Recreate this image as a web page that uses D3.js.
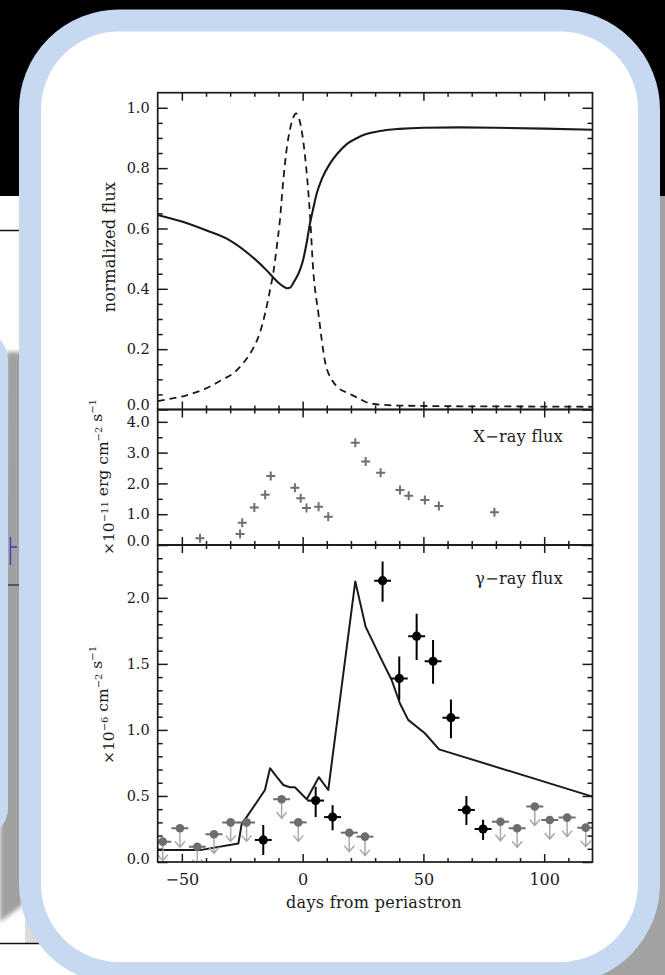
<!DOCTYPE html>
<html>
<head>
<meta charset="utf-8">
<script src="https://cdn.jsdelivr.net/npm/d3@7/dist/d3.min.js"></script>
<style>
  html, body { margin: 0; padding: 0; background: #ffffff; }
  svg { display: block; }
</style>
</head>
<body>
<svg id="slide" width="665" height="975"></svg>
<script>
// ---------- data ----------
// days from periastron, shared by all three panels
const dayDomain = [-60, 120];
const dayMajorTicks = [-50, 0, 50, 100];
const dayMinorStep = 10;

// upper panel: normalized model curves
const solidDays = [-60,-50,-40,-30,-20,-15,-12,-10,-8,-6.3,-5,-3.9,-2.5,-1.1,0,1.5,3,4.5,5.8,8,11.3,14.6,18,22.6,26,31.4,40,50,65,80,100,120];
const solidFlux = [0.645,0.623,0.594,0.560,0.500,0.462,0.436,0.420,0.408,0.402,0.405,0.419,0.438,0.463,0.490,0.545,0.615,0.670,0.715,0.765,0.815,0.850,0.878,0.900,0.912,0.922,0.930,0.934,0.935,0.934,0.931,0.927];
const dashedDays = [-60,-55,-50,-45,-40,-37,-33,-28.7,-25,-22.6,-20,-17.7,-15.5,-13.5,-12,-10.7,-9.5,-8,-6.5,-5.3,-4,-2.7,-1.5,0,1.5,3,4.4,6.5,9.5,12,15,19,23,28,40,60,90,120];
const dashedFlux = [0.028,0.035,0.043,0.055,0.070,0.082,0.100,0.120,0.150,0.175,0.210,0.254,0.320,0.396,0.460,0.540,0.620,0.760,0.870,0.926,0.965,0.981,0.965,0.904,0.800,0.650,0.460,0.320,0.150,0.100,0.070,0.054,0.038,0.020,0.013,0.011,0.010,0.009];
const normTicks = [0, 0.2, 0.4, 0.6, 0.8, 1.0];

// middle panel: X-ray flux (1e-11 erg cm^-2 s^-1)
const xrayDays = [-42.5,-25.9,-25.0,-20.0,-15.5,-13.2,-3.2,-0.8,1.6,6.6,10.6,21.8,26.1,32.3,40.3,43.9,50.6,56.4,79.4];
const xrayFlux = [0.22,0.36,0.72,1.22,1.63,2.24,1.86,1.52,1.20,1.24,0.92,3.32,2.71,2.35,1.79,1.60,1.46,1.27,1.06];
const xrayTicks = [0, 1, 2, 3, 4];

// lower panel: gamma-ray flux (1e-6 cm^-2 s^-1)
const modelDays = [-60,-42.5,-26.6,-25.2,-23.2,-15.6,-13.5,-10.8,-8,-5.3,-3.2,1.7,6.7,10.6,21.8,26.1,32.7,36.8,40.3,43.7,50.6,56.5,120];
const modelFlux = [0.09,0.09,0.14,0.29,0.34,0.545,0.71,0.646,0.583,0.566,0.566,0.475,0.642,0.545,2.124,1.78,1.53,1.38,1.20,1.076,0.975,0.853,0.495];
const detDays = [-16.3,5.4,12.4,33.1,40.0,47.2,54.0,61.4,67.8,74.7];
const detFlux = [0.167,0.465,0.34,2.13,1.39,1.71,1.52,1.093,0.394,0.25];
const detLow  = [0.053,0.34,0.24,1.97,1.227,1.53,1.35,0.937,0.28,0.167];
const detHigh = [0.28,0.57,0.43,2.275,1.555,1.88,1.68,1.23,0.50,0.32];
const limDays = [-57.9,-50.8,-43.6,-36.7,-29.8,-23.2,-8.7,-1.8,19.3,25.8,81.9,88.8,96.1,102.3,109.5,117.2];
const limFlux = [0.154,0.255,0.116,0.21,0.30,0.30,0.475,0.30,0.222,0.192,0.305,0.255,0.42,0.318,0.336,0.26];
const binHalfWidth = 3.5;
const gammaTicks = [0, 0.5, 1.0, 1.5, 2.0];

// ---------- page ----------
const svg = d3.select("#slide");
const defs = svg.append("defs");
defs.append("filter").attr("id", "soft")
  .append("feGaussianBlur").attr("stdDeviation", 2);

// slide background pieces around the frame
svg.append("rect").attr("x", 0).attr("y", 0).attr("width", 665).attr("height", 975).attr("fill", "#ffffff");
svg.append("rect").attr("x", 0).attr("y", 0).attr("width", 665).attr("height", 196).attr("fill", "#000000");
svg.append("rect").attr("x", 560).attr("y", 196).attr("width", 105).attr("height", 779).attr("fill", "#a2a2a2");
svg.append("line").attr("x1", 0).attr("x2", 22).attr("y1", 230.5).attr("y2", 230.5)
  .attr("stroke", "#111").attr("stroke-width", 1.5);
svg.append("path")
  .attr("d", "M6,352 L24,352 L24,904 L0,922 L0,820 Z")
  .attr("fill", "#a0a0a0").attr("filter", "url(#soft)");
svg.append("rect").attr("x", -60).attr("y", 330).attr("width", 68).attr("height", 508).attr("rx", 30)
  .attr("fill", "#c6d9f1");
svg.append("path").attr("d", "M10.5,537 V565 M10.5,547 H17").attr("stroke", "#3a3ad0").attr("stroke-width", 1.3).attr("fill", "none");
svg.append("line").attr("x1", 8).attr("x2", 19).attr("y1", 585).attr("y2", 585).attr("stroke", "#222").attr("stroke-width", 1.2);
svg.append("rect").attr("x", 25).attr("y", 905).attr("width", 30).attr("height", 38).attr("fill", "#dcdcdc");
svg.append("line").attr("x1", 0).attr("x2", 55).attr("y1", 943.5).attr("y2", 943.5)
  .attr("stroke", "#111").attr("stroke-width", 1.5);

// rounded light-blue frame with white interior
svg.append("rect").attr("x", 30).attr("y", 20.5).attr("width", 619).attr("height", 952.5)
  .attr("rx", 89).attr("ry", 89)
  .attr("fill", "#ffffff").attr("stroke", "#c6d9f1").attr("stroke-width", 22);

// ---------- chart ----------
const left = 157.7, right = 592.5;
const x = d3.scaleLinear().domain(dayDomain).range([left, right]);
const yTop = d3.scaleLinear().domain([0, 1.05]).range([409.5, 92.7]);
const yMid = d3.scaleLinear().domain([0, 4.4]).range([545, 409.5]);
const yBot = d3.scaleLinear().domain([0, 2.4]).range([862, 545]);

const serif = "'DejaVu Serif', 'Liberation Serif', serif";
const ink = "#1a1a1a";
const chart = svg.append("g");

const xMinor = d3.range(dayDomain[0], dayDomain[1] + 1, dayMinorStep)
  .filter(v => !dayMajorTicks.includes(v) && v > dayDomain[0] && v < dayDomain[1]);

function styleAxis(g) {
  g.select(".domain").remove();
  g.selectAll(".tick line").attr("stroke", ink).attr("stroke-width", 1.5);
  g.selectAll("text").attr("font-family", serif).attr("fill", ink);
}

function panelAxes(y, majors, minorStep, fmt, withDays, zeroShift) {
  const [d0, d1] = y.domain();
  const minors = d3.range(d0, d1 + 1e-9, minorStep)
    .map(v => +v.toFixed(4))
    .filter(v => !majors.some(m => Math.abs(m - v) < 1e-6) && v > d0 && v < d1);
  const [yb, yt] = y.range();
  const g = chart.append("g");
  const ySize = 14.5;

  // left: labelled majors + minors
  g.append("g").attr("transform", `translate(${left},0)`)
    .call(d3.axisLeft(y).tickValues(majors).tickSize(-10).tickPadding(8).tickFormat(d3.format(fmt)))
    .call(styleAxis)
    .call(a => a.selectAll("text").attr("font-size", ySize)
      .filter(d => d === 0).attr("dy", `${0.32 - zeroShift / ySize}em`));
  g.append("g").attr("transform", `translate(${left},0)`)
    .call(d3.axisLeft(y).tickValues(minors).tickSize(-5).tickFormat(""))
    .call(styleAxis);
  // right mirror
  g.append("g").attr("transform", `translate(${right},0)`)
    .call(d3.axisRight(y).tickValues(majors).tickSize(-10).tickFormat(""))
    .call(styleAxis);
  g.append("g").attr("transform", `translate(${right},0)`)
    .call(d3.axisRight(y).tickValues(minors).tickSize(-5).tickFormat(""))
    .call(styleAxis);
  // top
  g.append("g").attr("transform", `translate(0,${yt})`)
    .call(d3.axisTop(x).tickValues(dayMajorTicks).tickSize(-8).tickFormat(""))
    .call(styleAxis);
  g.append("g").attr("transform", `translate(0,${yt})`)
    .call(d3.axisTop(x).tickValues(xMinor).tickSize(-4).tickFormat(""))
    .call(styleAxis);
  // bottom
  g.append("g").attr("transform", `translate(0,${yb})`)
    .call(d3.axisBottom(x).tickValues(dayMajorTicks).tickSize(-8).tickPadding(12)
      .tickFormat(withDays ? d3.format("d") : ""))
    .call(styleAxis)
    .call(a => a.selectAll("text").attr("font-size", 16));
  g.append("g").attr("transform", `translate(0,${yb})`)
    .call(d3.axisBottom(x).tickValues(xMinor).tickSize(-4).tickFormat(""))
    .call(styleAxis);
  // frame
  g.append("rect").attr("x", left).attr("y", yt).attr("width", right - left).attr("height", yb - yt)
    .attr("fill", "none").attr("stroke", ink).attr("stroke-width", 1.7);
}

function clipFor(id, y) {
  const [yb, yt] = y.range();
  defs.append("clipPath").attr("id", id)
    .append("rect").attr("x", left).attr("y", yt).attr("width", right - left).attr("height", yb - yt);
  return chart.append("g").attr("clip-path", `url(#${id})`);
}

// --- upper panel ---
const topG = clipFor("clipTop", yTop);
const lineTop = d3.line().x(d => x(d[0])).y(d => yTop(d[1])).curve(d3.curveMonotoneX);
topG.append("path").datum(d3.zip(dashedDays, dashedFlux)).attr("d", lineTop)
  .attr("fill", "none").attr("stroke", ink).attr("stroke-width", 1.8).attr("stroke-dasharray", "7,5");
topG.append("path").datum(d3.zip(solidDays, solidFlux)).attr("d", lineTop)
  .attr("fill", "none").attr("stroke", ink).attr("stroke-width", 2.1);
panelAxes(yTop, normTicks, 0.05, ".1f", false, 5);

// --- middle panel ---
const midG = clipFor("clipMid", yMid);
const arm = 4.5;
midG.selectAll("path.xr").data(d3.zip(xrayDays, xrayFlux)).join("path")
  .attr("class", "xr")
  .attr("d", d => {
    const px = x(d[0]), py = yMid(d[1]);
    return `M${px - arm},${py}H${px + arm}M${px},${py - arm}V${py + arm}`;
  })
  .attr("stroke", "#6f6f6f").attr("stroke-width", 2).attr("fill", "none");
panelAxes(yMid, xrayTicks, 0.5, ".1f", false, 4);
chart.append("text").attr("x", 563).attr("y", 436).attr("dy", "0.35em")
  .attr("text-anchor", "end").attr("font-family", serif).attr("font-size", 16)
  .attr("letter-spacing", 0.3).attr("fill", ink).text("X\u2212ray flux");

// --- lower panel ---
const botG = clipFor("clipBot", yBot);
const lineBot = d3.line().x(d => x(d[0])).y(d => yBot(d[1]));
botG.append("path").datum(d3.zip(modelDays, modelFlux)).attr("d", lineBot)
  .attr("fill", "none").attr("stroke", ink).attr("stroke-width", 2).attr("stroke-linejoin", "round");

// upper limits: grey dot, bin bar and downward arrow
const lims = d3.zip(limDays, limFlux);
const limG = botG.selectAll("g.lim").data(lims).join("g").attr("class", "lim");
limG.append("path")
  .attr("d", d => {
    const px = x(d[0]), py = yBot(d[1]), tip = py + 19;
    return `M${px},${py}V${tip}M${px - 5},${tip - 6}L${px},${tip}L${px + 5},${tip - 6}`;
  })
  .attr("fill", "none").attr("stroke", "#a9a9a9").attr("stroke-width", 1.5);
limG.append("line")
  .attr("x1", d => x(d[0] - binHalfWidth)).attr("x2", d => x(d[0] + binHalfWidth))
  .attr("y1", d => yBot(d[1])).attr("y2", d => yBot(d[1]))
  .attr("stroke", "#6d6d6d").attr("stroke-width", 2);
limG.append("circle").attr("cx", d => x(d[0])).attr("cy", d => yBot(d[1])).attr("r", 4.3)
  .attr("fill", "#6d6d6d");

// detections: black dot with error bars
const dets = detDays.map((d, i) => ({ day: d, v: detFlux[i], lo: detLow[i], hi: detHigh[i] }));
const detG = botG.selectAll("g.det").data(dets).join("g").attr("class", "det");
detG.append("line")
  .attr("x1", d => x(d.day)).attr("x2", d => x(d.day))
  .attr("y1", d => yBot(d.lo)).attr("y2", d => yBot(d.hi))
  .attr("stroke", "#000").attr("stroke-width", 2);
detG.append("line")
  .attr("x1", d => x(d.day - binHalfWidth)).attr("x2", d => x(d.day + binHalfWidth))
  .attr("y1", d => yBot(d.v)).attr("y2", d => yBot(d.v))
  .attr("stroke", "#000").attr("stroke-width", 2);
detG.append("circle").attr("cx", d => x(d.day)).attr("cy", d => yBot(d.v)).attr("r", 4.6)
  .attr("fill", "#000");

panelAxes(yBot, gammaTicks, 0.1, ".1f", true, 3);
chart.append("text").attr("x", 563).attr("y", 578).attr("dy", "0.35em")
  .attr("text-anchor", "end").attr("font-family", serif).attr("font-size", 16)
  .attr("letter-spacing", 0.3).attr("fill", ink).text("\u03b3\u2212ray flux");

// ---------- axis titles ----------
function verticalTitle(cx, cy, parts, size, supSize) {
  const t = chart.append("text")
    .attr("transform", `translate(${cx},${cy}) rotate(-90)`)
    .attr("text-anchor", "middle").attr("dy", "0.35em")
    .attr("font-family", serif).attr("font-size", size).attr("fill", ink);
  parts.forEach(p => {
    if (p.sup) {
      t.append("tspan").attr("dy", -6).attr("font-size", supSize).text(p.sup);
      t.append("tspan").attr("dy", 6).text("");
    } else {
      t.append("tspan").text(p.t);
    }
  });
  return t;
}
verticalTitle(109, 247, [{ t: "normalized flux" }], 16, 10).attr("letter-spacing", 0.3);
verticalTitle(109, 477, [{ t: "\u00d710" }, { sup: "\u221211" }, { t: " erg cm" }, { sup: "\u22122" }, { t: " s" }, { sup: "\u22121" }], 15.5, 10);
verticalTitle(109, 705, [{ t: "\u00d710" }, { sup: "\u22126" }, { t: " cm" }, { sup: "\u22122" }, { t: " s" }, { sup: "\u22121" }], 15.5, 10);

chart.append("text").attr("x", 374).attr("y", 902).attr("dy", "0.35em")
  .attr("text-anchor", "middle").attr("font-family", serif).attr("font-size", 16)
  .attr("letter-spacing", 0.3).attr("fill", ink).text("days from periastron");
</script>
</body>
</html>
